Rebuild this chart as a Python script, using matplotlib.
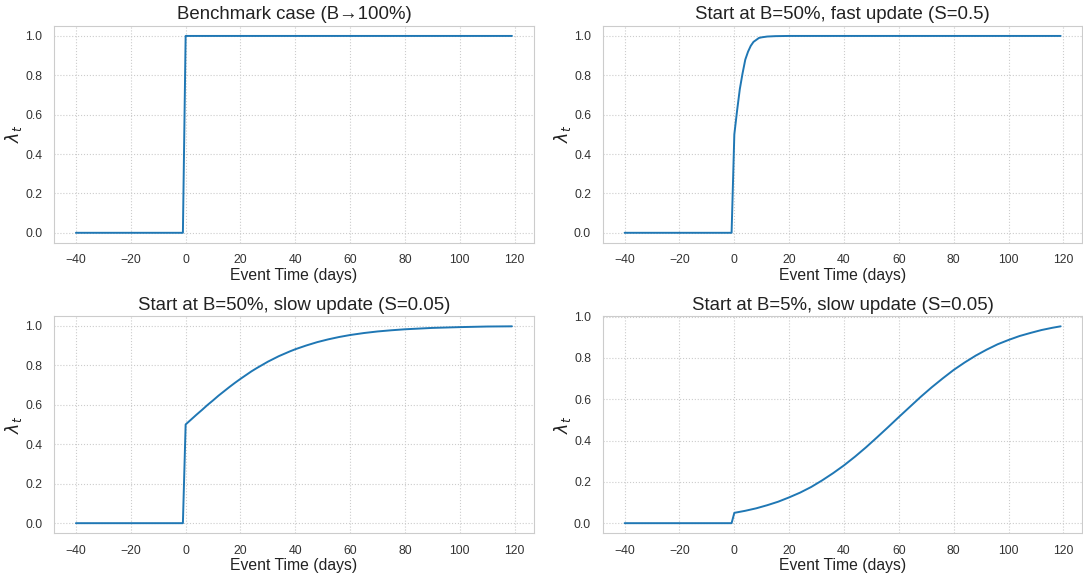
import matplotlib.pyplot as plt
import seaborn as sns

# event days before the shock (lambda = 0)
pre_days = [-40, -1]
pre_vals = [0.0, 0.0]

# benchmark: jumps straight to 1
bench_days = [0, 119]
bench_vals = [1.0, 1.0]

# B=50%, S=0.5
fast_days = [0, 1, 2, 3, 4, 5, 6, 7, 8, 9, 10, 12, 15, 20, 119]
fast_vals = [0.50, 0.62, 0.73, 0.81, 0.88, 0.92, 0.95, 0.97, 0.98, 0.99,
             0.993, 0.997, 0.999, 1.0, 1.0]

# B=50%, S=0.05
slow50_days = [0, 2, 4, 6, 8, 10, 12, 14, 16, 18, 20, 22, 24, 26, 28, 30, 32,
               34, 36, 38, 40, 44, 48, 52, 56, 60, 65, 70, 75, 80, 90, 100,
               110, 119]
slow50_vals = [0.50, 0.525, 0.55, 0.574, 0.599, 0.622, 0.646, 0.668, 0.69,
               0.711, 0.731, 0.75, 0.769, 0.786, 0.802, 0.818, 0.832, 0.846,
               0.858, 0.87, 0.881, 0.90, 0.917, 0.931, 0.943, 0.953, 0.963,
               0.971, 0.977, 0.982, 0.989, 0.993, 0.996, 0.997]

# B=5%, S=0.05
slow5_days = [0, 4, 8, 12, 16, 20, 24, 28, 32, 36, 40, 44, 48, 52, 56, 60, 64,
              68, 72, 76, 80, 84, 88, 92, 96, 100, 104, 108, 112, 116, 119]
slow5_vals = [0.05, 0.06, 0.072, 0.087, 0.104, 0.125, 0.148, 0.175, 0.207,
              0.242, 0.28, 0.322, 0.367, 0.415, 0.464, 0.514, 0.563, 0.612,
              0.658, 0.701, 0.742, 0.778, 0.811, 0.84, 0.866, 0.887, 0.906,
              0.921, 0.935, 0.946, 0.953]

titles = ["Benchmark case (B\u2192100%)",
          "Start at B=50%, fast update (S=0.5)",
          "Start at B=50%, slow update (S=0.05)",
          "Start at B=5%, slow update (S=0.05)"]
post = [(bench_days, bench_vals), (fast_days, fast_vals),
        (slow50_days, slow50_vals), (slow5_days, slow5_vals)]

sns.set_style("whitegrid", {"grid.linestyle": ":", "grid.color": "#cccccc",
                            "axes.edgecolor": "#cccccc"})
plt.rcParams['font.family'] = ['Liberation Sans', 'DejaVu Sans']

fig, axes = plt.subplots(2, 2, figsize=(10.83, 5.8), dpi=100)
for ax, title, (d, v) in zip(axes.flat, titles, post):
    ax.plot(pre_days + d, pre_vals + v, color="#1f77b4", lw=1.4)
    ax.set_title(title, fontsize=13.4, color="#222222", pad=5)
    ax.set_xlabel("Event Time (days)", fontsize=11.3, labelpad=1, color="#222222")
    ax.set_ylabel(r"$\lambda_t$", fontsize=12.5, color="#222222", labelpad=1)
    ax.tick_params(labelsize=8.8, colors="#333333", pad=5)
    ax.set_xticks([-40, -20, 0, 20, 40, 60, 80, 100, 120])
    ax.grid(linewidth=0.8)

fig.subplots_adjust(left=0.05, right=0.9995, top=0.955, bottom=0.081,
                    wspace=0.144, hspace=0.341)
fig.savefig("out.png", dpi=100)
